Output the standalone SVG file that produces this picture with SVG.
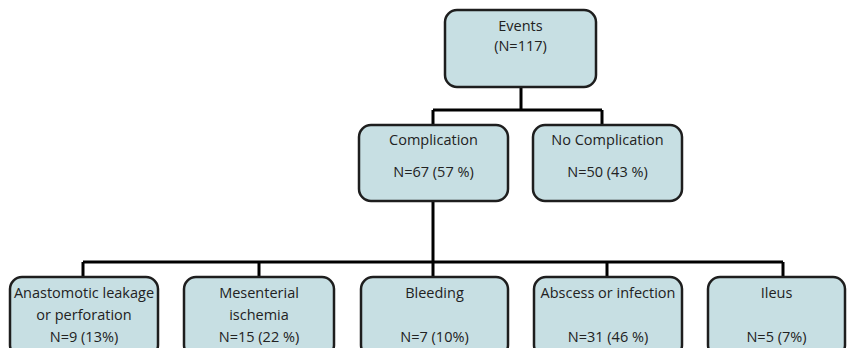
<svg xmlns="http://www.w3.org/2000/svg" width="847" height="348" viewBox="0 0 847 348">
<style>
.box{fill:#c7dfe3;stroke:#1e1e1e;stroke-width:2.5}
.t{font-family:"Open Sans","Liberation Sans",sans-serif;font-size:14.5px;fill:#222;text-anchor:middle}
.c{fill:none;stroke:#000;stroke-width:3}
</style>
<rect width="847" height="348" fill="#fff"/>
<g id="connectors">
<path class="c" d="M521 87V110M433 110H602M433 110V125M602 110V125"/>
<path class="c" d="M433 201V262M83 262H783M83 262V277M259 262V277M433 262V277M607 262V277M783 262V277"/>
</g>
<g id="events"><rect class="box" x="445" y="10" width="151" height="77" rx="12"/>
<text class="t" x="520.5" y="31">Events</text><text class="t" x="520.5" y="51">(N=117)</text></g>
<g id="complication"><rect class="box" x="359" y="125" width="149" height="76" rx="12"/>
<text class="t" x="433.5" y="145">Complication</text><text class="t" x="433.5" y="177">N=67 (57 %)</text></g>
<g id="nocomplication"><rect class="box" x="533" y="125" width="149" height="76" rx="12"/>
<text class="t" x="607.5" y="145">No Complication</text><text class="t" x="607.5" y="177">N=50 (43 %)</text></g>
<g id="leakage"><rect class="box" x="10" y="277" width="148" height="80" rx="12"/>
<text class="t" x="84" y="298">Anastomotic leakage</text><text class="t" x="84" y="320">or perforation</text><text class="t" x="84" y="342">N=9 (13%)</text></g>
<g id="ischemia"><rect class="box" x="184" y="277" width="150" height="80" rx="12"/>
<text class="t" x="259" y="298">Mesenterial</text><text class="t" x="259" y="320">ischemia</text><text class="t" x="259" y="342">N=15 (22 %)</text></g>
<g id="bleeding"><rect class="box" x="361" y="277" width="147" height="80" rx="12"/>
<text class="t" x="434.5" y="298">Bleeding</text><text class="t" x="434.5" y="342">N=7 (10%)</text></g>
<g id="abscess"><rect class="box" x="534" y="277" width="148" height="80" rx="12"/>
<text class="t" x="608" y="298">Abscess or infection</text><text class="t" x="608" y="342">N=31 (46 %)</text></g>
<g id="ileus"><rect class="box" x="708" y="277" width="137" height="80" rx="12"/>
<text class="t" x="776.5" y="298">Ileus</text><text class="t" x="776.5" y="342">N=5 (7%)</text></g>
</svg>
